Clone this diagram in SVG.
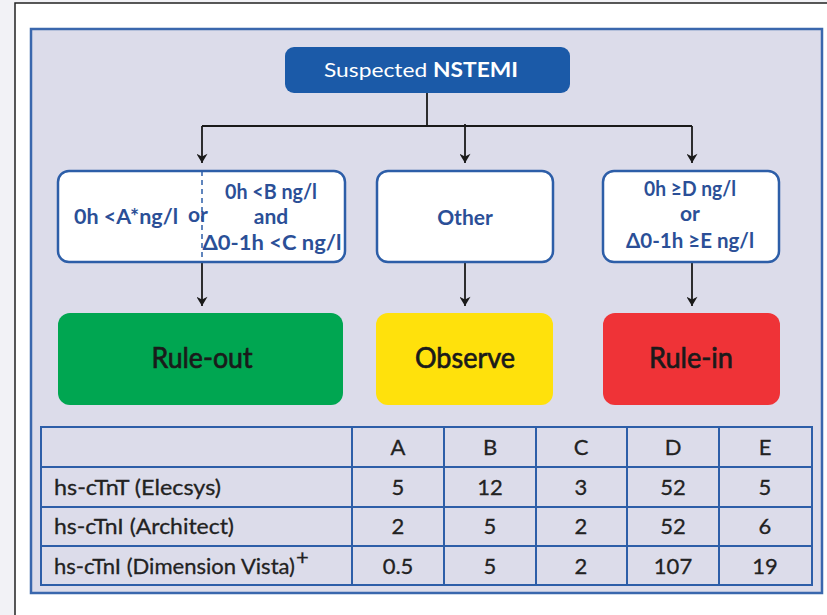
<svg xmlns="http://www.w3.org/2000/svg" width="827" height="615" viewBox="0 0 827 615">
<defs>
<marker id="ah" viewBox="0 0 10 12" refX="10" refY="6" markerWidth="13" markerHeight="11" orient="auto" markerUnits="userSpaceOnUse">
<path d="M0,0 L10,6 L0,12 L3,6 z" fill="#1a1a1a"/>
</marker>
<style>
.lbl{font-family:Lato,"Open Sans",sans-serif;font-weight:bold;fill:#2b4f97;font-size:21px;text-anchor:middle}
.res{font-family:Lato,"Open Sans",sans-serif;fill:#1a1a1a;font-size:29px;text-anchor:middle;stroke:#1a1a1a;stroke-width:0.7}
.cell{font-family:Lato,"Open Sans",sans-serif;fill:#222;font-size:22px;text-anchor:middle;stroke:#222;stroke-width:0.3}
.row{font-family:Lato,"Open Sans",sans-serif;fill:#222;font-size:22px;stroke:#222;stroke-width:0.3}
.node{fill:#ffffff;stroke:#2d5ea8;stroke-width:2.5}
.conn{stroke:#1a1a1a;stroke-width:1.8;fill:none}
.tl{stroke:#2d5ea8;stroke-width:2;fill:none}
</style>
</defs>
<rect x="0" y="0" width="827" height="615" fill="#f2f2f6"/>
<rect x="15" y="3" width="830" height="640" fill="#ffffff" stroke="#222" stroke-width="1.5"/>
<rect x="31" y="29" width="791" height="564" fill="#dcdcea" stroke="#3a67ad" stroke-width="2.5"/>

<g id="connectors">
<line class="conn" x1="427" y1="93" x2="427" y2="126"/>
<line class="conn" x1="202" y1="126" x2="692" y2="126"/>
<line class="conn" x1="202" y1="126" x2="202" y2="163" marker-end="url(#ah)"/>
<line class="conn" x1="465" y1="124" x2="465" y2="163" marker-end="url(#ah)"/>
<line class="conn" x1="692" y1="126" x2="692" y2="163" marker-end="url(#ah)"/>
<line class="conn" x1="202" y1="262" x2="202" y2="306" marker-end="url(#ah)"/>
<line class="conn" x1="465" y1="262" x2="465" y2="306" marker-end="url(#ah)"/>
<line class="conn" x1="692" y1="262" x2="692" y2="306" marker-end="url(#ah)"/>
</g>

<g id="suspected">
<rect x="285" y="47" width="285" height="46" rx="9" fill="#1b5aa8"/>
<text x="421" y="77" font-family="Lato,'Open Sans',sans-serif" font-size="20" fill="#ffffff" text-anchor="middle" textLength="194" lengthAdjust="spacingAndGlyphs">Suspected <tspan font-weight="bold">NSTEMI</tspan></text>
</g>

<g id="ruleout-criteria">
<rect class="node" x="58" y="171" width="287" height="91" rx="11"/>
<line x1="202" y1="171" x2="202" y2="262" stroke="#2d5ea8" stroke-width="1.5" stroke-dasharray="5,4"/>
<text class="lbl" x="126" y="224" textLength="104" lengthAdjust="spacingAndGlyphs">0h &lt;A*ng/l</text>
<text class="lbl" x="198" y="222">or</text>
<text class="lbl" x="271" y="199" textLength="92" lengthAdjust="spacingAndGlyphs">0h &lt;B ng/l</text>
<text class="lbl" x="271" y="224">and</text>
<text class="lbl" x="272" y="250" textLength="139" lengthAdjust="spacingAndGlyphs">Δ0-1h &lt;C ng/l</text>
</g>

<g id="other">
<rect class="node" x="377" y="171" width="176" height="91" rx="11"/>
<text class="lbl" x="465" y="225">Other</text>
</g>

<g id="rulein-criteria">
<rect class="node" x="603" y="171" width="176" height="91" rx="11"/>
<text class="lbl" x="690" y="196" textLength="92" lengthAdjust="spacingAndGlyphs">0h ≥D ng/l</text>
<text class="lbl" x="690" y="221">or</text>
<text class="lbl" x="690" y="248" textLength="128" lengthAdjust="spacingAndGlyphs">Δ0-1h ≥E ng/l</text>
</g>

<g id="ruleout">
<rect x="58" y="313" width="285" height="92" rx="12" fill="#00a651"/>
<text class="res" x="202" y="368" textLength="101" lengthAdjust="spacingAndGlyphs">Rule-out</text>
</g>
<g id="observe">
<rect x="376" y="313" width="177" height="92" rx="12" fill="#ffe10c"/>
<text class="res" x="465" y="368" textLength="100" lengthAdjust="spacingAndGlyphs">Observe</text>
</g>
<g id="rulein">
<rect x="603" y="313" width="177" height="92" rx="12" fill="#ef3337"/>
<text class="res" x="691" y="368" textLength="84" lengthAdjust="spacingAndGlyphs">Rule-in</text>
</g>

<g id="table">
<rect class="tl" x="41" y="427" width="771" height="158"/>
<line class="tl" x1="41" y1="467" x2="812" y2="467"/>
<line class="tl" x1="41" y1="507" x2="812" y2="507"/>
<line class="tl" x1="41" y1="546" x2="812" y2="546"/>
<line class="tl" x1="352" y1="427" x2="352" y2="585"/>
<line class="tl" x1="444" y1="427" x2="444" y2="585"/>
<line class="tl" x1="536" y1="427" x2="536" y2="585"/>
<line class="tl" x1="627" y1="427" x2="627" y2="585"/>
<line class="tl" x1="719" y1="427" x2="719" y2="585"/>
<text class="cell" x="398" y="455">A</text>
<text class="cell" x="490" y="455">B</text>
<text class="cell" x="581" y="455">C</text>
<text class="cell" x="673" y="455">D</text>
<text class="cell" x="765" y="455">E</text>
<text class="row" x="54" y="495" textLength="167" lengthAdjust="spacingAndGlyphs">hs-cTnT (Elecsys)</text>
<text class="cell" x="398" y="495">5</text>
<text class="cell" x="490" y="495">12</text>
<text class="cell" x="581" y="495">3</text>
<text class="cell" x="673" y="495">52</text>
<text class="cell" x="765" y="495">5</text>
<text class="row" x="54" y="534" textLength="180" lengthAdjust="spacingAndGlyphs">hs-cTnI (Architect)</text>
<text class="cell" x="398" y="534">2</text>
<text class="cell" x="490" y="534">5</text>
<text class="cell" x="581" y="534">2</text>
<text class="cell" x="673" y="534">52</text>
<text class="cell" x="765" y="534">6</text>
<text class="row" x="54" y="574" textLength="241" lengthAdjust="spacingAndGlyphs">hs-cTnI (Dimension Vista)</text>
<text class="row" x="296" y="565" font-size="17">+</text>
<text class="cell" x="398" y="574">0.5</text>
<text class="cell" x="490" y="574">5</text>
<text class="cell" x="581" y="574">2</text>
<text class="cell" x="673" y="574">107</text>
<text class="cell" x="765" y="574">19</text>
</g>
</svg>
